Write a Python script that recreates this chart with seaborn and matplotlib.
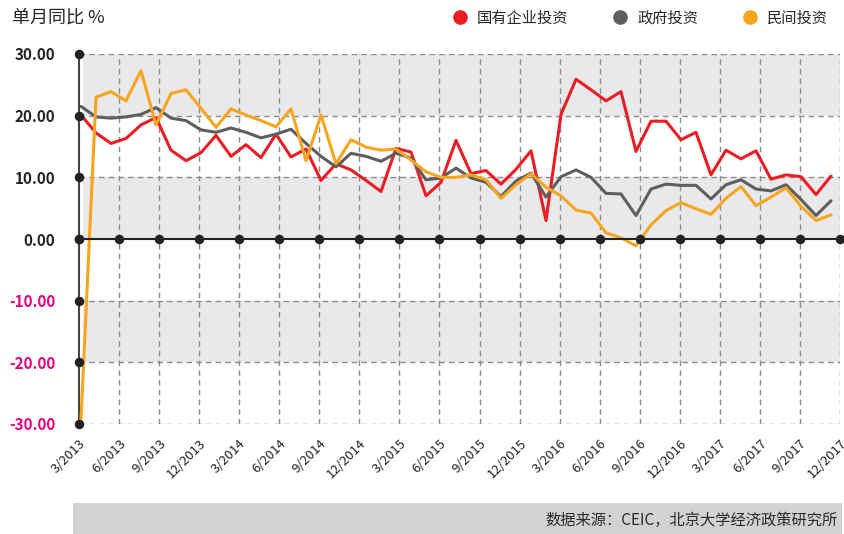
import numpy as np
import pandas as pd
import seaborn as sns
import matplotlib.pyplot as plt
from matplotlib.lines import Line2D
from matplotlib.patches import Rectangle

# monthly yoy growth, %
series_names = ['国有企业投资', '政府投资', '民间投资']
soe = [20.1, 17.2, 15.5, 16.3, 18.5, 19.7, 14.4, 12.7, 14.0, 16.8,
       13.4, 15.3, 13.2, 17.0, 13.3, 14.6, 9.5, 12.2, 11.2, 9.5,
       7.7, 14.7, 14.1, 7.0, 9.2, 16.0, 10.6, 11.1, 8.9, 11.3,
       14.3, 3.0, 20.2, 25.9, 24.2, 22.4, 23.9, 14.2, 19.1, 19.1,
       16.1, 17.3, 10.4, 14.4, 13.0, 14.3, 9.7, 10.4, 10.1, 7.2, 10.2]
gov = [21.5, 19.8, 19.6, 19.8, 20.2, 21.3, 19.6, 19.2, 17.7, 17.3,
       18.0, 17.3, 16.4, 17.0, 17.8, 15.5, 13.4, 11.7, 13.9, 13.4,
       12.6, 13.9, 13.1, 9.6, 9.9, 11.5, 9.9, 9.2, 6.9, 9.4,
       10.7, 6.8, 10.1, 11.2, 10.0, 7.4, 7.3, 3.8, 8.1, 8.9,
       8.7, 8.7, 6.5, 8.8, 9.6, 8.1, 7.8, 8.8, 6.4, 3.8, 6.2]
private = [-29.3, 23.0, 23.9, 22.4, 27.3, 18.5, 23.6, 24.2, 21.2, 18.1,
           21.1, 20.1, 19.2, 18.2, 21.1, 12.7, 20.1, 12.2, 16.1, 14.9,
           14.4, 14.6, 12.8, 10.9, 10.0, 10.0, 10.4, 9.6, 6.6, 8.8,
           10.6, 8.4, 7.0, 4.7, 4.2, 1.0, 0.2, -1.1, 2.3, 4.6,
           5.9, 4.9, 4.0, 6.6, 8.5, 5.4, 6.8, 8.3, 5.3, 3.0, 3.9]
tick_labels = ['3/2013', '6/2013', '9/2013', '12/2013', '3/2014', '6/2014',
               '9/2014', '12/2014', '3/2015', '6/2015', '9/2015', '12/2015',
               '3/2016', '6/2016', '9/2016', '12/2016', '3/2017', '6/2017',
               '9/2017', '12/2017']
y_ticks = [30, 20, 10, 0, -10, -20, -30]

colors = ['#ec1c24', '#5e5e60', '#f7a51c']

df = pd.DataFrame({
    'idx': np.tile(np.arange(len(soe)), 3),
    'value': soe + gov + private,
    'series': np.repeat(series_names, len(soe)),
})

sns.set_style('white')
plt.rcParams['font.family'] = ['Noto Sans CJK SC', 'DejaVu Sans']

fig = plt.figure(figsize=(8.44, 5.34), dpi=100)
ax = fig.add_axes([79 / 844, 110 / 534, 761 / 844, 370 / 534])

x0, x1 = -2 / 15, 759 / 15
ax.set_xlim(x0, x1)
ax.set_ylim(-30, 30)

# background bands and grid
for lo in (20, 0, -20):
    ax.axhspan(lo, lo + 10, xmin=4 / 761, color='#e9e9eb', lw=0, zorder=0)
for y in y_ticks:
    if y != 0:
        ax.axhline(y, color='#8c8c8c', ls=(0, (4, 3)), lw=1, zorder=1)
xt = np.linspace(x0, x1, len(tick_labels))
for x in xt[1:]:
    ax.axvline(x, color='#8c8c8c', ls=(0, (4, 3)), lw=1, zorder=1)

sns.lineplot(data=df, x='idx', y='value', hue='series', palette=colors,
             linewidth=2.2, legend=False, ax=ax, zorder=3)

ax.axhline(0, color='#222222', lw=1.5, zorder=4)
ax.scatter(xt, np.zeros(len(xt)), s=34, color='#222222', zorder=5, clip_on=False)
ax.scatter(np.full(len(y_ticks), x0), y_ticks, s=34, color='#222222', zorder=5, clip_on=False)

for s in ['top', 'right', 'bottom']:
    ax.spines[s].set_visible(False)
ax.spines['left'].set_color('#444444')
ax.spines['left'].set_linewidth(1.5)

ax.set_xticks(xt)
ax.set_xticklabels(tick_labels, rotation=45, ha='right', rotation_mode='anchor',
                   fontsize=9.5, color='#222222')
ax.tick_params(axis='x', length=5, color='#8c8c8c', pad=4)
ax.set_yticks(y_ticks)
ax.set_yticklabels([f'{v:.2f}' for v in y_ticks], fontsize=11, fontweight='bold')
ax.tick_params(axis='y', length=0, pad=17)
for lab, v in zip(ax.get_yticklabels(), y_ticks):
    lab.set_color('#e4007f' if v < 0 else '#222222')
ax.set_xlabel('')
ax.set_ylabel('')

fig.text(12 / 844, 1 - 18 / 534, '单月同比 %', fontsize=13, fontweight='medium',
         va='center', color='#222222')

handles = [Line2D([], [], marker='o', ls='', color=c, markersize=9.5) for c in colors]
fig.legend(handles, series_names, loc='center right', bbox_to_anchor=(828 / 844, 1 - 18 / 534),
           ncol=3, frameon=False, fontsize=11, handletextpad=0.1, columnspacing=2.4,
           borderaxespad=0, borderpad=0)

fig.patches.append(Rectangle((73 / 844, 0), 769 / 844, 31 / 534, transform=fig.transFigure,
                             facecolor='#d1d2d4', lw=0))
fig.text(838 / 844, 14 / 534, '数据来源：CEIC，北京大学经济政策研究所', ha='right', va='center',
         fontsize=11, fontweight='medium', color='#2a2a2a')

fig.savefig('out.png', dpi=100)
